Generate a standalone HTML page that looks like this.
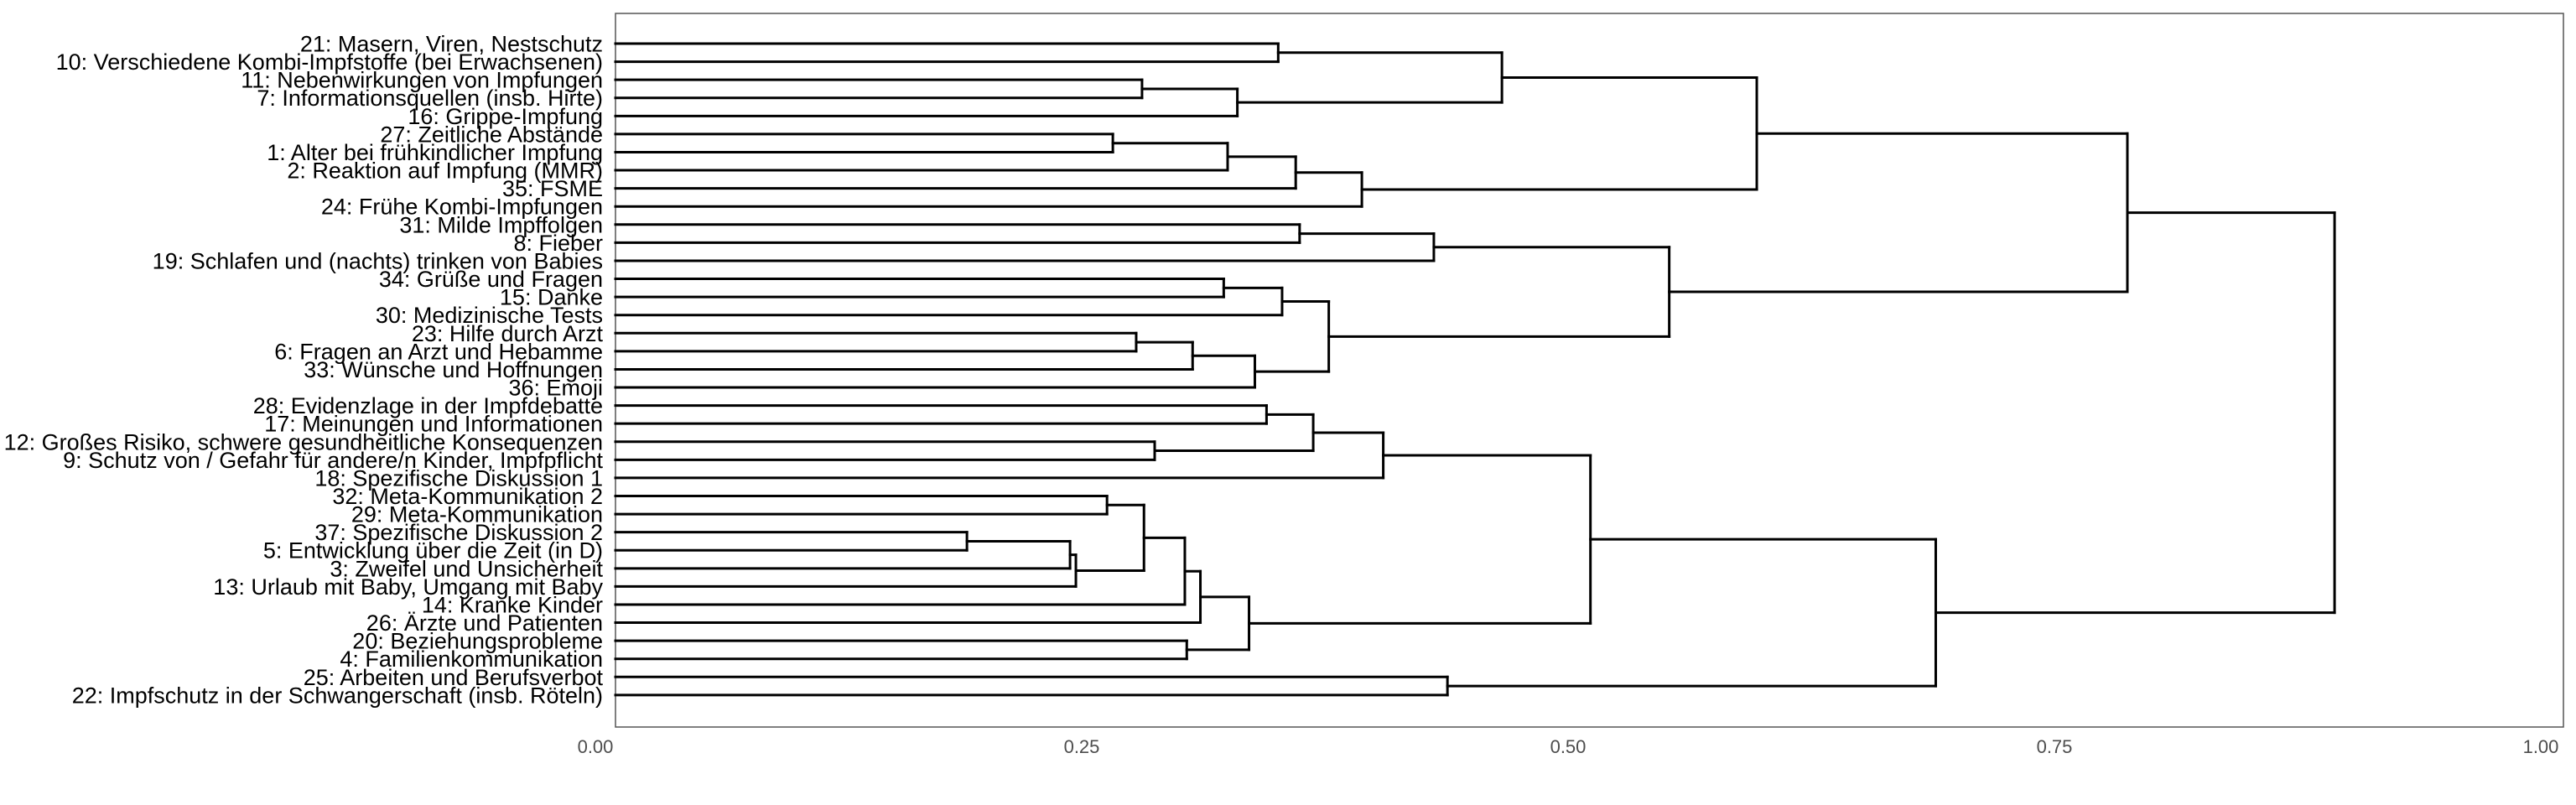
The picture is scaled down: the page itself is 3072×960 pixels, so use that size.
<!DOCTYPE html>
<html><head><meta charset="utf-8"><style>
html,body{margin:0;padding:0;background:#fff;}
svg{display:block;font-family:"Liberation Sans",sans-serif;}
</style></head><body>
<svg id="chart" width="3072" height="960" viewBox="0 0 3072 960" xmlns="http://www.w3.org/2000/svg">
<rect x="734" y="16" width="2323" height="851" fill="none" stroke="#555" stroke-width="1.5"/>
<g id="labels"></g>
<g id="links"></g>
<g id="ticks"></g>
</svg>
<script>
const leafLabels = ["21: Masern, Viren, Nestschutz","10: Verschiedene Kombi-Impfstoffe (bei Erwachsenen)","11: Nebenwirkungen von Impfungen","7: Informationsquellen (insb. Hirte)","16: Grippe-Impfung","27: Zeitliche Abstände","1: Alter bei frühkindlicher Impfung","2: Reaktion auf Impfung (MMR)","35: FSME","24: Frühe Kombi-Impfungen","31: Milde Impffolgen","8: Fieber","19: Schlafen und (nachts) trinken von Babies","34: Grüße und Fragen","15: Danke","30: Medizinische Tests","23: Hilfe durch Arzt","6: Fragen an Arzt und Hebamme","33: Wünsche und Hoffnungen","36: Emoji","28: Evidenzlage in der Impfdebatte","17: Meinungen und Informationen","12: Großes Risiko, schwere gesundheitliche Konsequenzen","9: Schutz von / Gefahr für andere/n Kinder, Impfpflicht","18: Spezifische Diskussion 1","32: Meta-Kommunikation 2","29: Meta-Kommunikation","37: Spezifische Diskussion 2","5: Entwicklung über die Zeit (in D)","3: Zweifel und Unsicherheit","13: Urlaub mit Baby, Umgang mit Baby","14: Kranke Kinder","26: Ärzte und Patienten","20: Beziehungsprobleme","4: Familienkommunikation","25: Arbeiten und Berufsverbot","22: Impfschutz in der Schwangerschaft (insb. Röteln)"];
// hclust-style merges: negative = leaf (-(index+1)), positive = merge number (1-based)
const mergeLeft  = [-1,-3,2,1,-6,5,6,7,4,-11,10,-14,12,-17,14,15,13,11,9,-21,-23,20,22,-26,-28,25,26,24,28,29,-34,30,23,-36,33,19];
const mergeRight = [-2,-4,-5,3,-7,-8,-9,-10,8,-12,-13,-15,-16,-18,-19,-20,16,17,18,-22,-24,21,-25,-27,-29,-30,-31,27,-32,-33,-35,31,32,-37,34,35];
const mergeHeight = [0.351,0.281,0.330,0.466,0.266,0.325,0.360,0.394,0.597,0.362,0.431,0.323,0.353,0.278,0.307,0.339,0.377,0.552,0.7875,0.345,0.2875,0.369,0.405,0.263,0.191,0.244,0.247,0.282,0.303,0.311,0.304,0.336,0.5115,0.438,0.689,0.894];
const xTicks = [0,0.25,0.5,0.75,1];
const xTickLabels = ["0.00","0.25","0.50","0.75","1.00"];

const NS="http://www.w3.org/2000/svg";
const panelLeft=734;
function xScale(v){return 710+2320*v;}
function yScale(i){return 52+21.58*i;}
function px(v){return Math.max(panelLeft, xScale(v));}

const lab=document.getElementById('labels');
leafLabels.forEach((t,i)=>{
  const el=document.createElementNS(NS,'text');
  
  
  el.setAttribute('x',719);el.setAttribute('y',yScale(i)+9.5);
  el.setAttribute('text-anchor','end');el.setAttribute('font-size','27');el.setAttribute('fill','#000');
  el.textContent=t;lab.appendChild(el);
});

const links=document.getElementById('links');
const nodeY=[],nodeH=[];
function info(c){
  if(c<0){return {y:yScale(-c-1),h:0};}
  return {y:nodeY[c-1],h:nodeH[c-1]};
}
function line(x1,y1,x2,y2,name){
  const l=document.createElementNS(NS,'line');
  
  
  l.setAttribute('x1',x1);l.setAttribute('y1',y1);l.setAttribute('x2',x2);l.setAttribute('y2',y2);
  l.setAttribute('stroke','#000');l.setAttribute('stroke-width','3');l.setAttribute('stroke-linecap','square');
  links.appendChild(l);
}
for(let k=0;k<mergeHeight.length;k++){
  const a=info(mergeLeft[k]),b=info(mergeRight[k]);
  const h=mergeHeight[k];
  const xm=px(h);
  line(px(a.h),a.y,xm,a.y,'branch-segment');
  line(px(b.h),b.y,xm,b.y,'branch-segment');
  line(xm,a.y,xm,b.y,'merge-segment');
  nodeY[k]=(a.y+b.y)/2;nodeH[k]=h;
}

const tk=document.getElementById('ticks');
xTicks.forEach((v,i)=>{
  const t=document.createElementNS(NS,'text');
  
  
  t.setAttribute('x',xScale(v));t.setAttribute('y',898);
  t.setAttribute('text-anchor','middle');t.setAttribute('font-size','22');t.setAttribute('fill','#4d4d4d');
  t.textContent=xTickLabels[i];tk.appendChild(t);
});
</script>
</body></html>
